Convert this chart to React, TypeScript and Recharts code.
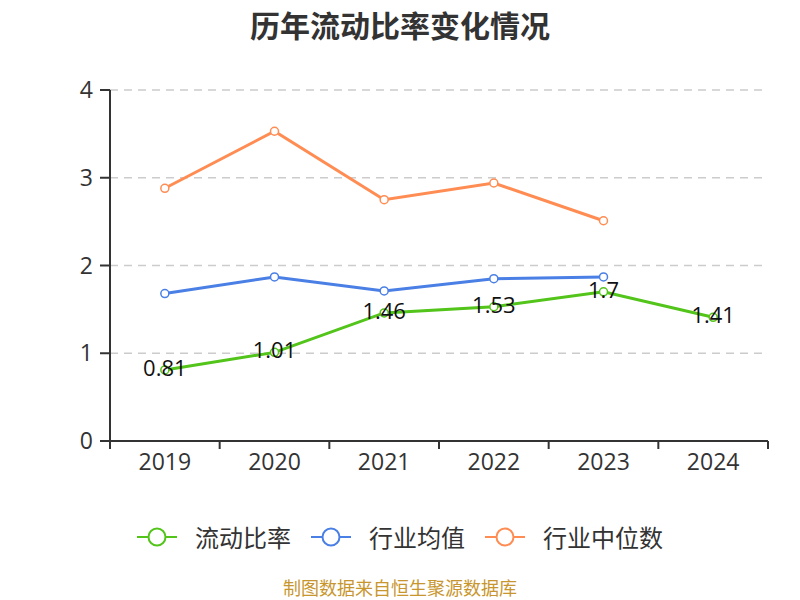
import React from 'react';
import { LineChart, Line, XAxis, YAxis, CartesianGrid, LabelList } from 'recharts';

const years = ['2019', '2020', '2021', '2022', '2023', '2024'];
const currentRatio = [0.81, 1.01, 1.46, 1.53, 1.7, 1.41];
const industryAvg = [1.68, 1.87, 1.71, 1.85, 1.87, null];
const industryMedian = [2.88, 3.53, 2.75, 2.94, 2.51, null];
const yTicks = [0, 1, 2, 3, 4];

const GREEN = '#52c41a';
const BLUE = '#4a7fe5';
const ORANGE = '#ff8c52';

const data = years.map((y, i) => ({
  x: i + 0.5,
  year: y,
  ratio: currentRatio[i],
  avg: industryAvg[i],
  median: industryMedian[i],
}));

const boundaryTicks = years.map((_, i) => i).concat([years.length]);
const centerTicks = years.map((_, i) => i + 0.5);

const legendItems = [
  { name: '流动比率', color: GREEN },
  { name: '行业均值', color: BLUE },
  { name: '行业中位数', color: ORANGE },
];

const cjk = '"Noto Sans CJK SC", "Open Sans", sans-serif';
const num = '"Open Sans", "Noto Sans", sans-serif';

const renderLabel = (props: any) => {
  const { x, y, value } = props;
  return (
    <text x={x} y={y + 6} textAnchor="middle" fill="#111" fontSize={22} fontFamily={num}>
      {value}
    </text>
  );
};

const emptyTick = () => <g />;

const dot = (color: string) => ({ r: 4, fill: '#fff', stroke: color, strokeWidth: 1.5 });

export default function App() {
  return (
    <div style={{ position: 'fixed', left: 0, top: 0, width: 800, height: 600, background: '#fff' }}>
      <div
        style={{
          position: 'absolute', left: 0, top: 4, width: 800, textAlign: 'center',
          fontFamily: cjk, fontWeight: 'bold', fontSize: 30, color: '#333', lineHeight: '40px',
        }}
      >
        历年流动比率变化情况
      </div>
      <LineChart width={800} height={600} data={data} margin={{ top: 90, right: 32, left: 0, bottom: 129 }}>
        <CartesianGrid vertical={false} stroke="#ccc" strokeDasharray="8 6" strokeWidth={1.5} yAxisId="y" xAxisId="a_ticks" />
        <XAxis
          xAxisId="a_ticks"
          dataKey="x"
          type="number"
          domain={[0, years.length]}
          ticks={boundaryTicks}
          tick={emptyTick}
          interval={0}
          height={8}
          tickSize={8}
          axisLine={{ stroke: '#333', strokeWidth: 2 }}
          tickLine={{ stroke: '#333', strokeWidth: 2 }}
        />
        <XAxis
          xAxisId="b_labels"
          dataKey="x"
          type="number"
          domain={[0, years.length]}
          ticks={centerTicks}
          tickFormatter={(v: number) => years[Math.round(v - 0.5)]}
          height={22}
          tickSize={0}
          tickMargin={5}
          axisLine={false}
          tickLine={false}
          interval={0}
          tick={{ fill: '#333', fontSize: 23, fontFamily: num }}
        />
        <YAxis
          yAxisId="y"
          domain={[0, 4]}
          ticks={yTicks}
          width={110}
          tickSize={10}
          tickMargin={7}
          axisLine={{ stroke: '#333', strokeWidth: 2 }}
          tickLine={{ stroke: '#333', strokeWidth: 2 }}
          tick={{ fill: '#333', fontSize: 23, fontFamily: num }}
        />
        <Line
          xAxisId="a_ticks" yAxisId="y" dataKey="median" stroke={ORANGE} strokeWidth={3}
          dot={dot(ORANGE)} activeDot={false} isAnimationActive={false}
        />
        <Line
          xAxisId="a_ticks" yAxisId="y" dataKey="avg" stroke={BLUE} strokeWidth={3}
          dot={dot(BLUE)} activeDot={false} isAnimationActive={false}
        />
        <Line
          xAxisId="b_labels" yAxisId="y" dataKey="ratio" stroke={GREEN} strokeWidth={3}
          dot={dot(GREEN)} activeDot={false} isAnimationActive={false}
        >
          <LabelList dataKey="ratio" content={renderLabel} />
        </Line>
      </LineChart>
      <div
        style={{
          position: 'absolute', left: 0, top: 520, width: 800, height: 34,
          display: 'flex', justifyContent: 'center', alignItems: 'center', gap: 20,
          fontFamily: cjk, fontSize: 24, color: '#333',
        }}
      >
        {legendItems.map((it) => (
          <div key={it.name} style={{ display: 'flex', alignItems: 'center' }}>
            <svg width={40} height={24} style={{ marginRight: 18 }}>
              <line x1={0} y1={12} x2={40} y2={12} stroke={it.color} strokeWidth={2} />
              <circle cx={20} cy={12} r={8.5} fill="#fff" stroke={it.color} strokeWidth={2} />
            </svg>
            <span style={{ lineHeight: '34px' }}>{it.name}</span>
          </div>
        ))}
      </div>
      <div
        style={{
          position: 'absolute', left: 0, top: 577, width: 800, textAlign: 'center',
          fontFamily: cjk, fontSize: 18, color: '#c8962e', lineHeight: '21px',
        }}
      >
        制图数据来自恒生聚源数据库
      </div>
    </div>
  );
}
